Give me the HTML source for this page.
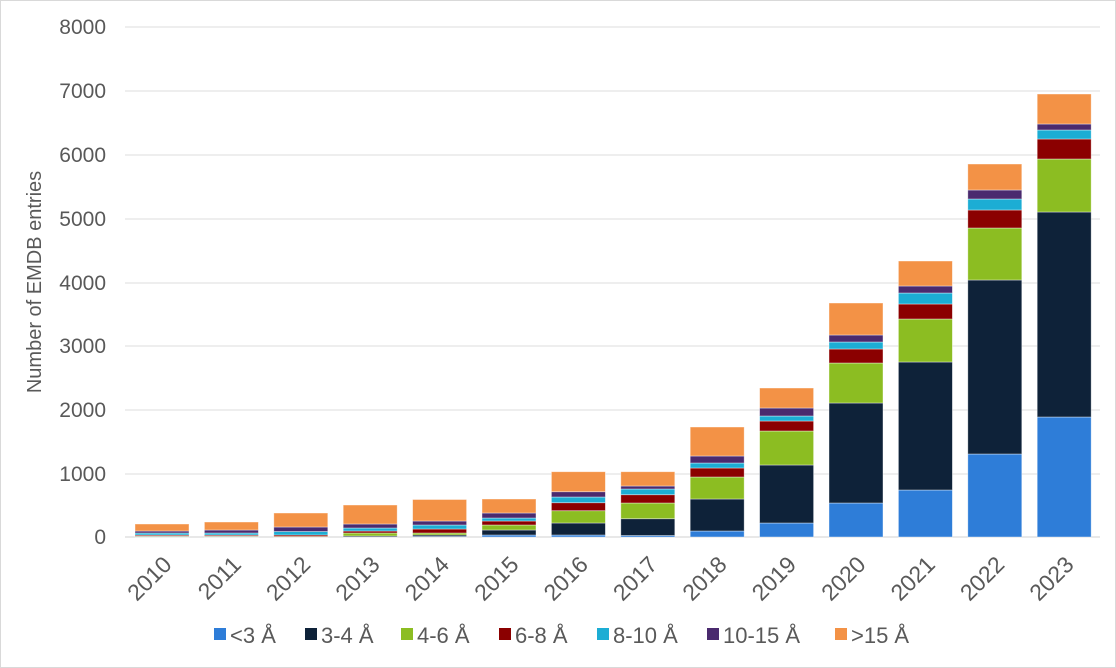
<!DOCTYPE html>
<html><head><meta charset="utf-8"><style>
html,body{margin:0;padding:0;background:#fff;}
svg{display:block;}
text{font-family:"Liberation Sans",Arial,sans-serif;fill:#595959;}
</style></head><body>
<svg width="1116" height="668" viewBox="0 0 1116 668" xmlns="http://www.w3.org/2000/svg">
<rect x="0.5" y="0.5" width="1115" height="667" fill="#fff" stroke="#d9d9d9"/>
<g stroke="#e3e3e3" stroke-width="1.3">
<line x1="125" x2="1100" y1="27" y2="27"/><line x1="125" x2="1100" y1="91" y2="91"/>
<line x1="125" x2="1100" y1="155" y2="155"/><line x1="125" x2="1100" y1="219" y2="219"/>
<line x1="125" x2="1100" y1="283" y2="283"/><line x1="125" x2="1100" y1="346" y2="346"/>
<line x1="125" x2="1100" y1="410" y2="410"/><line x1="125" x2="1100" y1="474" y2="474"/>
<line x1="125" x2="1100" y1="537" y2="537" stroke="#d9d9d9"/>
</g>
<g font-size="21" text-anchor="end">
<text x="106" y="34">8000</text><text x="106" y="98">7000</text><text x="106" y="162">6000</text>
<text x="106" y="226">5000</text><text x="106" y="290">4000</text><text x="106" y="353">3000</text>
<text x="106" y="417">2000</text><text x="106" y="481">1000</text><text x="106" y="544">0</text>
</g>
<text font-size="20" text-anchor="middle" transform="translate(41,282) rotate(-90)">Number of EMDB entries</text>
<g id="bars" stroke="#fff" stroke-opacity="0.5" stroke-width="0.8"></g>
<g id="xl" font-size="23" text-anchor="end"></g>
<g font-size="22">
<rect x="214" y="628" width="12" height="12" fill="#2e7dd8"/><text x="230" y="643">&lt;3 Å</text>
<rect x="305" y="628" width="12" height="12" fill="#0e2239"/><text x="321" y="643">3-4 Å</text>
<rect x="401" y="628" width="12" height="12" fill="#8cbd22"/><text x="417" y="643">4-6 Å</text>
<rect x="499" y="628" width="12" height="12" fill="#8b0000"/><text x="515" y="643">6-8 Å</text>
<rect x="597" y="628" width="12" height="12" fill="#1cadd4"/><text x="613" y="643">8-10 Å</text>
<rect x="707" y="628" width="12" height="12" fill="#4a2a6e"/><text x="723" y="643">10-15 Å</text>
<rect x="835" y="628" width="12" height="12" fill="#f39246"/><text x="851" y="643">&gt;15 Å</text>
</g>
<script>
var cols=["#2e7dd8","#0e2239","#8cbd22","#8b0000","#1cadd4","#4a2a6e","#f39246"];
var tops=[
[537,536.5,536,535,533,531,524],
[537,536.5,536,535,533,530,522],
[537,537,536.5,535,531.5,527,513],
[537,536,533,531,528,524,505],
[536.5,535,533,529,525,521,499.5],
[535,530,525,521,518,513,499],
[535,523,510.7,502.7,497,491.7,471.7],
[535.5,518.7,503,494.7,489,486,471.7],
[531,499,477,468,463,456,427],
[523,465,431,421,416,408,388],
[503,403,363,349,342,335,303],
[490,362,319,304,293,286,261],
[454,280,228,210,199,190,164],
[417,212,159,139,130,124,94]];
var ns="http://www.w3.org/2000/svg",g=document.getElementById("bars"),xl=document.getElementById("xl");
for(var i=0;i<14;i++){var cx=162+i*69.4,prev=537;
for(var j=0;j<7;j++){var t=tops[i][j];if(prev-t>0){var r=document.createElementNS(ns,"rect");
r.setAttribute("x",cx-27);r.setAttribute("width",54);r.setAttribute("y",t);r.setAttribute("height",prev-t);r.setAttribute("fill",cols[j]);g.appendChild(r);}prev=t;}
var tx=document.createElementNS(ns,"text");tx.setAttribute("transform","translate("+(cx+11)+",566) rotate(-45)");tx.textContent=2010+i;xl.appendChild(tx);}
</script>
</svg>
</body></html>
